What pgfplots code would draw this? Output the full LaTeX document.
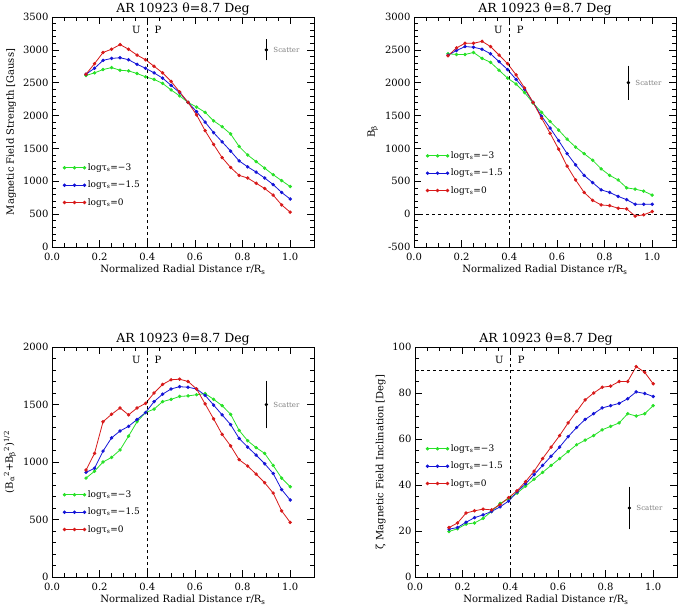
\documentclass[border=0pt]{standalone}
\usepackage{fontspec}
\setmainfont{DejaVu Serif}
\usepackage{pgfplots}
\usepackage{pgfplotstable}
\pgfplotsset{compat=1.18}

\definecolor{gline}{RGB}{40,225,40}
\definecolor{bline}{RGB}{20,20,215}
\definecolor{rline}{RGB}{215,25,25}

% x = k/28, columns: green (log tau=-3), blue (-1.5), red (0)
\pgfplotstableread{
x g b r
0.142857 2610 2630 2630
0.178571 2650 2720 2790
0.214286 2700 2840 2960
0.25     2730 2870 3010
0.285714 2690 2880 3080
0.321429 2680 2850 3010
0.357143 2640 2780 2920
0.392857 2590 2720 2850
0.428571 2550 2650 2750
0.464286 2490 2570 2650
0.5      2390 2460 2520
0.535714 2300 2350 2360
0.571429 2200 2200 2200
0.607143 2130 2060 2010
0.642857 2050 1900 1770
0.678571 1920 1740 1560
0.714286 1830 1600 1360
0.75     1720 1460 1210
0.785714 1530 1310 1090
0.821429 1400 1220 1050
0.857143 1300 1140 970
0.892857 1200 1050 890
0.928571 1100 950 790
0.964286 1010 830 640
1.0      920 730 530
}\strength

\pgfplotstableread{
x g b r
0.142857 2440 2420 2410
0.178571 2430 2490 2530
0.214286 2430 2550 2600
0.25     2460 2540 2600
0.285714 2370 2510 2630
0.321429 2310 2440 2550
0.357143 2190 2320 2420
0.392857 2070 2200 2290
0.428571 1980 2050 2120
0.464286 1850 1900 1920
0.5      1690 1700 1700
0.535714 1550 1490 1460
0.571429 1410 1310 1230
0.607143 1280 1120 990
0.642857 1140 920 730
0.678571 1020 750 520
0.714286 920 590 330
0.75     820 480 210
0.785714 690 370 140
0.821429 590 330 130
0.857143 520 270 90
0.892857 400 220 80
0.928571 380 150 -30
0.964286 350 150 -10
1.0      290 150 40
}\brho

\pgfplotstableread{
x g b r
0.142857 860 910 930
0.178571 920 945 1075
0.214286 1000 1095 1350
0.25     1040 1210 1415
0.285714 1105 1270 1470
0.321429 1225 1310 1410
0.357143 1350 1370 1470
0.392857 1430 1430 1510
0.428571 1460 1525 1600
0.464286 1525 1590 1675
0.5      1545 1635 1715
0.535714 1570 1655 1720
0.571429 1575 1650 1700
0.607143 1585 1635 1635
0.642857 1595 1580 1505
0.678571 1545 1495 1375
0.714286 1490 1410 1240
0.75     1415 1325 1140
0.785714 1275 1205 1020
0.821429 1185 1130 965
0.857143 1125 1060 895
0.892857 1075 985 820
0.928571 970 900 730
0.964286 860 760 575
1.0      785 670 475
}\btrans

\pgfplotstableread{
x g b r
0.142857 19.8 20.8 21.5
0.178571 21.0 21.5 23.5
0.214286 23.0 23.8 27.8
0.25     23.5 25.8 28.8
0.285714 25.5 27.0 29.5
0.321429 28.5 28.5 29.2
0.357143 32.0 30.5 31.5
0.392857 34.0 33.0 34.5
0.428571 36.5 37.0 37.5
0.464286 39.5 40.5 41.5
0.5      42.5 44.5 46.0
0.535714 45.5 48.5 51.5
0.571429 48.5 52.5 56.5
0.607143 51.5 56.5 61.5
0.642857 54.5 61.0 67.0
0.678571 57.5 65.0 72.0
0.714286 59.5 68.5 77.0
0.75     61.5 71.0 80.0
0.785714 64.0 73.5 82.5
0.821429 65.5 74.5 83.0
0.857143 67.0 75.5 85.0
0.892857 71.0 77.5 85.0
0.928571 70.0 80.5 91.5
0.964286 71.0 79.8 89.0
1.0      74.5 78.5 84.0
}\incl

\pgfplotsset{
  panel/.style={
    scale only axis, width=262pt, height=230pt,
    xmin=0, xmax=1.1,
    xtick={0,0.2,0.4,0.6,0.8,1.0},
    minor x tick num=3,
    tick align=inside,
    major tick length=7pt, minor tick length=4pt,
    axis line style={line width=0.8pt},
    every tick/.style={black, line width=0.6pt},
    /pgf/number format/assume math mode=true,
    /pgf/number format/1000 sep={},
    scaled y ticks=false,
    xticklabel style={/pgf/number format/.cd, fixed, fixed zerofill, precision=1},
    xticklabel shift=3pt,
    tick label style={font=\fontsize{10}{12}\selectfont},
    label style={font=\fontsize{10}{12}\selectfont},
    xlabel style={yshift=3pt},
    title style={font=\fontsize{12.5}{14}\selectfont, at={(0.5,1)}, anchor=south, inner sep=1.5pt, yshift=-6pt},
    title={AR 10923 θ=8.7 Deg},
    xlabel={Normalized Radial Distance r/R\textsubscript{s}},
    legend cell align=left,
    legend style={draw=none, fill=none, inner sep=0pt,
      font=\fontsize{9}{10}\selectfont, row sep=5pt, anchor=north west},
    legend image code/.code={
      \draw[mark repeat=1, mark phase=1, #1] plot coordinates {(0pt,0pt) (10pt,0pt) (20pt,0pt)};},
    every axis plot/.append style={line width=0.8pt, mark=*, mark size=1.3pt},
  },
  gser/.style={gline, mark options={fill=gline, draw=gline}},
  bser/.style={bline, mark options={fill=bline, draw=bline}},
  rser/.style={rline, mark options={fill=rline, draw=rline}},
  refline/.style={black, dashed, line width=0.7pt, mark=none, forget plot},
  scat/.style={black, mark=*, mark size=1.3pt, forget plot,
    error bars/.cd, y dir=both, y explicit,
    error bar style={line width=0.7pt}, error mark options={black, mark size=2pt, line width=0.7pt}},
}

\begin{document}
\begin{tikzpicture}
\useasboundingbox (0,0) rectangle (685pt,614pt);

% top left
\begin{axis}[panel, at={(52pt,367pt)}, anchor=south west,
  ymin=0, ymax=3500, ytick={0,500,...,3500}, minor y tick num=4,
  ylabel={Magnetic Field Strength [Gauss]},
  legend style={at={(0.042,0.372)}}]
  \addplot[gser] table[x=x, y=g] {\strength}; \addlegendentry{logτ\textsubscript{s}=−3}
  \addplot[bser] table[x=x, y=b] {\strength}; \addlegendentry{logτ\textsubscript{s}=−1.5}
  \addplot[rser] table[x=x, y=r] {\strength}; \addlegendentry{logτ\textsubscript{s}=0}
  \addplot[refline] coordinates {(0.4,0) (0.4,3500)};
  \addplot[scat] coordinates {(0.9,3000) +- (0,130)};
  \node[anchor=west, font=\fontsize{7}{8}\selectfont, text=gray] at (axis cs:0.915,3000) {Scatter};
  \node[font=\fontsize{10}{12}\selectfont] at (rel axis cs:0.322,0.943) {U};
  \node[font=\fontsize{10}{12}\selectfont] at (rel axis cs:0.405,0.943) {P};
\end{axis}

% top right
\begin{axis}[panel, at={(414pt,367pt)}, anchor=south west,
  ymin=-500, ymax=3000, ytick={-500,0,...,3000}, minor y tick num=4,
  ylabel={B\textsubscript{β}},
  legend style={at={(0.046,0.424)}}]
  \addplot[gser] table[x=x, y=g] {\brho}; \addlegendentry{logτ\textsubscript{s}=−3}
  \addplot[bser] table[x=x, y=b] {\brho}; \addlegendentry{logτ\textsubscript{s}=−1.5}
  \addplot[rser] table[x=x, y=r] {\brho}; \addlegendentry{logτ\textsubscript{s}=0}
  \addplot[refline] coordinates {(0.4,-500) (0.4,3000)};
  \addplot[refline] coordinates {(0,0) (1.1,0)};
  \addplot[scat] coordinates {(0.9,2000) +- (0,230)};
  \node[anchor=west, font=\fontsize{7}{8}\selectfont, text=gray] at (axis cs:0.915,2000) {Scatter};
  \node[font=\fontsize{10}{12}\selectfont] at (rel axis cs:0.322,0.943) {U};
  \node[font=\fontsize{10}{12}\selectfont] at (rel axis cs:0.405,0.943) {P};
\end{axis}

% bottom left
\begin{axis}[panel, at={(52pt,37pt)}, anchor=south west,
  ymin=0, ymax=2000, ytick={0,500,...,2000}, minor y tick num=4,
  ylabel={(B\textsubscript{α}\textsuperscript{2}+B\textsubscript{β}\textsuperscript{2})\textsuperscript{1/2}},
  legend style={at={(0.042,0.385)}}]
  \addplot[gser] table[x=x, y=g] {\btrans}; \addlegendentry{logτ\textsubscript{s}=−3}
  \addplot[bser] table[x=x, y=b] {\btrans}; \addlegendentry{logτ\textsubscript{s}=−1.5}
  \addplot[rser] table[x=x, y=r] {\btrans}; \addlegendentry{logτ\textsubscript{s}=0}
  \addplot[refline] coordinates {(0.4,0) (0.4,2000)};
  \addplot[scat] coordinates {(0.9,1500) +- (0,190)};
  \node[anchor=west, font=\fontsize{7}{8}\selectfont, text=gray] at (axis cs:0.915,1500) {Scatter};
  \node[font=\fontsize{10}{12}\selectfont] at (rel axis cs:0.322,0.943) {U};
  \node[font=\fontsize{10}{12}\selectfont] at (rel axis cs:0.405,0.943) {P};
\end{axis}

% bottom right
\begin{axis}[panel, at={(415pt,37pt)}, anchor=south west,
  ymin=0, ymax=100, ytick={0,20,...,100}, minor y tick num=3,
  ylabel={ζ Magnetic Field Inclination [Deg]},
  legend style={at={(0.042,0.585)}}]
  \addplot[gser] table[x=x, y=g] {\incl}; \addlegendentry{logτ\textsubscript{s}=−3}
  \addplot[bser] table[x=x, y=b] {\incl}; \addlegendentry{logτ\textsubscript{s}=−1.5}
  \addplot[rser] table[x=x, y=r] {\incl}; \addlegendentry{logτ\textsubscript{s}=0}
  \addplot[refline] coordinates {(0.4,0) (0.4,100)};
  \addplot[refline] coordinates {(0,90) (1.1,90)};
  \addplot[scat] coordinates {(0.9,30) +- (0,8.4)};
  \node[anchor=west, font=\fontsize{7}{8}\selectfont, text=gray] at (axis cs:0.915,30) {Scatter};
  \node[font=\fontsize{10}{12}\selectfont] at (rel axis cs:0.322,0.943) {U};
  \node[font=\fontsize{10}{12}\selectfont] at (rel axis cs:0.405,0.943) {P};
\end{axis}
\end{tikzpicture}
\end{document}
